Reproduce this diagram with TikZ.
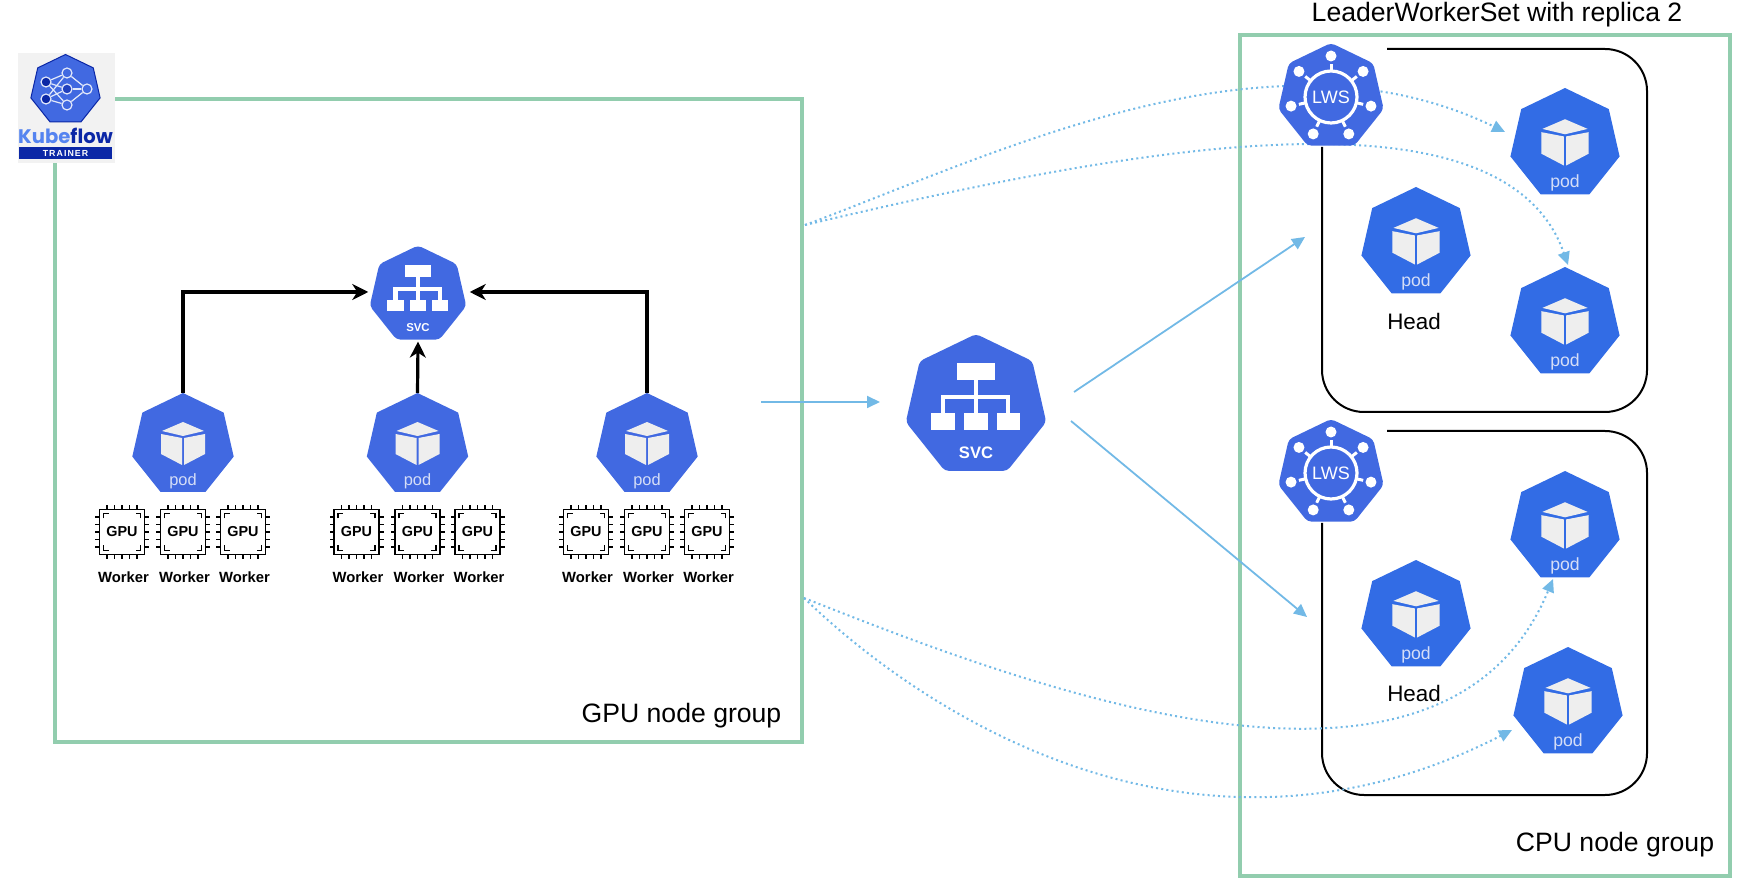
\documentclass[tikz,border=0pt]{standalone}
\usepackage{fontspec}
\setmainfont{Liberation Sans}
\newfontfamily\logofont{Poppins}
\usetikzlibrary{shapes.geometric,arrows.meta,positioning}
\definecolor{podblue}{HTML}{326CE5}
\definecolor{k8sblue}{HTML}{4169E1}
\definecolor{groupgreen}{HTML}{92CDAE}
\definecolor{linkblue}{HTML}{72B9E6}
\definecolor{podtext}{HTML}{D5DEF7}
\definecolor{cubegray}{HTML}{EEEEEE}
\definecolor{logodark}{HTML}{0B27A6}
\definecolor{logolight}{HTML}{5584F0}
\tikzset{
hept/.style={regular polygon,regular polygon sides=7,inner sep=0pt,outer sep=0pt,draw=none},
groupbox/.style={draw=groupgreen,line width=2pt},
lwsframe/.style={draw=black,line width=1pt,rounded corners=21pt},
callarrow/.style={draw=black,line width=1.6pt,-{Stealth[length=8pt,width=8pt,inset=2.5pt]}},
linkarrow/.style={draw=linkblue,line width=.9pt,-{Triangle[length=6.5pt,width=6pt]}},
linkdots/.style={draw=linkblue,line width=1pt,dash pattern=on 1pt off 1.6pt,-{Triangle[length=6.5pt,width=6pt]}},
grouplabel/.style={font=\fontsize{13.3}{15}\selectfont,inner sep=0pt},
headlabel/.style={font=\fontsize{11.2}{13}\selectfont,inner sep=0pt},
chipbox/.style={draw=black,line width=.9pt,minimum size=22.5pt,inner sep=0pt,font=\fontsize{7.2}{8}\selectfont\bfseries},
workerlabel/.style={font=\fontsize{7.4}{8}\selectfont\bfseries,inner sep=0pt},
logodot/.style={circle,draw=white!85!k8sblue,line width=.6pt,minimum size=5pt,inner sep=0pt},
pics/podglyph/.style={code={
\fill[cubegray] (0,-23) -- (21,-14) -- (0,-9) -- (-21,-14) -- cycle;
\fill[cubegray] (-22,-11) -- (-1,-7) -- (-1,20) -- (-22,9) -- cycle;
\fill[cubegray] (22,-11) -- (1,-7) -- (1,20) -- (22,9) -- cycle;
\node[text=podtext,font=\fontsize{8.2}{9}\selectfont,inner sep=0pt] (label) at (0,36) {pod};
}},
pics/svcglyph/.style={code={
\fill[white] (-19,-43) rectangle (19,-26);
\fill[white] (-45,7) rectangle (-21,24);
\fill[white] (-12,7) rectangle (12,24);
\fill[white] (21,7) rectangle (44,24);
\draw[white,line width=2.2pt] (0,-26) -- (0,7);
\draw[white,line width=2.2pt] (-33,7) -- (-33,-9) -- (32,-9) -- (32,7);
\node[text=white,font=\fontsize{8.3}{9}\selectfont\bfseries,inner sep=0pt] (label) at (0,47) {SVC};
}},
pics/lwsglyph/.style={code={
\draw[white,line width=1.6pt] (0,0) circle (26);
\foreach \k in {0,...,6}{
\draw[white,line width=1.5pt] (\k*51.43-90:26) -- (\k*51.43-90:33);
\fill[white] (\k*51.43-90:41) circle (5.5);
}
\node[text=white,font=\fontsize{9}{10}\selectfont,inner sep=0pt] (label) at (0,0) {LWS};
}},
pics/chippins/.style={code={
\foreach \k in {-15,-7.5,0,7.5,15}{
\draw[black,line width=.6pt] (\k,-22.5) -- (\k,-27);
\draw[black,line width=.6pt] (\k,22.5) -- (\k,27);
\draw[black,line width=.6pt] (-22.5,\k) -- (-27,\k);
\draw[black,line width=.6pt] (22.5,\k) -- (27,\k);
}
\draw[black,line width=.6pt] (-18.5,-13.5) -- (-18.5,-18.5) -- (-13.5,-18.5);
\draw[black,line width=.6pt] (18.5,-13.5) -- (18.5,-18.5) -- (13.5,-18.5);
\draw[black,line width=.6pt] (-18.5,13.5) -- (-18.5,18.5) -- (-13.5,18.5);
\draw[black,line width=.6pt] (18.5,13.5) -- (18.5,18.5) -- (13.5,18.5);
}}
}
\newcommand{\podicon}[4]{
\node[hept,fill=#4,minimum size=#3pt] (#1) at (#2) {};
\pic[scale=#3/52,transform shape] (#1g) at (#1) {podglyph};
}
\newcommand{\svcicon}[3]{
\node[hept,fill=k8sblue,rounded corners=2pt,minimum size=#3pt] (#1) at (#2) {};
\pic[scale=#3/72,transform shape] (#1g) at (#1) {svcglyph};
}
\newcommand{\lwsicon}[2]{
\node[hept,fill=k8sblue,rounded corners=2pt,minimum size=54pt] (#1) at (#2) {};
\pic (#1g) at (#1) {lwsglyph};
}
\begin{document}
\begin{tikzpicture}[x=.5pt,y=-.5pt]
\useasboundingbox (0,0) rectangle (1748,886);
\draw[groupbox] (55,99) rectangle (802,742);
\draw[groupbox] (1240,35) rectangle (1730,876);
\draw[lwsframe] (1322,147) |- (1647,412) |- (1387,49);
\draw[lwsframe] (1322,523) |- (1647,795) |- (1387,431);
\node[grouplabel] (gpuLabel) at (681.5,716) {GPU node group};
\node[grouplabel] (cpuLabel) at (1615,845) {CPU node group};
\node[grouplabel] (lwsTitle) at (1497,15) {LeaderWorkerSet with replica 2};
\coordinate (gpuOutTop) at (805,225);
\coordinate (gpuOutLow) at (804,598);
\coordinate (svcIn) at (761,402);
\coordinate (svcInEnd) at (880,402);
\coordinate (svcOutUp) at (1074,392);
\coordinate (svcOutLow) at (1071,421);
\coordinate (leaderUp) at (1305,237);
\coordinate (leaderLow) at (1307,617);
\coordinate (workerUpA) at (1505,132);
\coordinate (workerUpB) at (1568,265);
\coordinate (workerLowA) at (1553,579);
\coordinate (workerLowB) at (1512,730);
\draw[linkdots] (gpuOutTop) .. controls (1000,152) and (1270,18) .. (workerUpA);
\draw[linkdots] (gpuOutTop) .. controls (1090,158) and (1500,70) .. (workerUpB);
\draw[linkdots] (gpuOutLow) .. controls (1000,675) and (1440,853) .. (workerLowA);
\draw[linkdots] (gpuOutLow) .. controls (930,720) and (1200,890) .. (workerLowB);
\draw[linkarrow] (svcIn) -- (svcInEnd);
\draw[linkarrow] (svcOutUp) -- (leaderUp);
\draw[linkarrow] (svcOutLow) -- (leaderLow);
\svcicon{svcSmall}{418,295}{49.5}
\svcicon{svcBig}{976,406}{72}
\podicon{podA}{183,445}{52}{k8sblue}
\podicon{podB}{417.5,445}{52}{k8sblue}
\podicon{podC}{647,445}{52}{k8sblue}
\draw[callarrow] (podA.north) |- ([xshift=-2pt,yshift=1.5pt]svcSmall.west);
\draw[callarrow] (podC.north) |- ([xshift=3pt,yshift=1.5pt]svcSmall.east);
\draw[callarrow] (podB.north) -- ([yshift=-1pt]svcSmall.south);
\foreach \p/\px in {A/183,B/417.5,C/647}{
\foreach \c/\dx in {1/-61,2/0,3/60}{
\node[chipbox] (chip\p\c) at (\px+\dx,532) {GPU};
\pic (pins\p\c) at (chip\p\c) {chippins};
\node[workerlabel,below=8pt of chip\p\c,xshift=.8pt] (worker\p\c) {Worker};
}
}
\lwsicon{lwsUp}{1331,97}
\lwsicon{lwsLow}{1331,473}
\podicon{headUp}{1416,243}{56}{podblue}
\podicon{podUpA}{1565,144}{56}{podblue}
\podicon{podUpB}{1565,323}{56}{podblue}
\podicon{headLow}{1416,616}{56}{podblue}
\podicon{podLowA}{1565,527}{56}{podblue}
\podicon{podLowB}{1568,703}{56}{podblue}
\node[headlabel] (headUpLabel) at (1414,321) {Head};
\node[headlabel] (headLowLabel) at (1414,693) {Head};
\node[fill=black!5,draw=none,minimum width=48.5pt,minimum height=55pt,inner sep=0pt] (logoBack) at (66.5,108) {};
\node[hept,fill=k8sblue,draw=logodark,line width=.5pt,minimum size=35.5pt] (logoHept) at (65.5,90) {};
\node[logodot,fill=k8sblue] (dotTop) at (67,73) {};
\node[logodot,fill=logodark] (dotL1) at (46,82) {};
\node[logodot,fill=logodark] (dotL2) at (46,99) {};
\node[logodot,fill=logodark!60!k8sblue] (dotMid) at (67,89) {};
\node[logodot,fill=k8sblue] (dotBot) at (67,105) {};
\node[logodot,fill=k8sblue] (dotR) at (87,89) {};
\foreach \a/\b in {dotL1/dotTop,dotL1/dotMid,dotL1/dotBot,dotL2/dotTop,dotL2/dotMid,dotL2/dotBot,dotTop/dotR,dotMid/dotR,dotBot/dotR}{
\draw[white!85!k8sblue,line width=.6pt] (\a) -- (\b);
}
\node[inner sep=0pt,font=\logofont\bfseries\fontsize{9.8}{12}\selectfont] (logoText) at (65.5,136) {\textcolor{logolight}{Kube}\textcolor{logodark}{flow}};
\node[fill=logodark,text=white,minimum width=46.5pt,minimum height=6pt,inner sep=0pt,font=\fontsize{4.4}{5}\selectfont\bfseries\addfontfeature{LetterSpace=12}] (logoBand) at (65.5,153) {TRAINER};
\end{tikzpicture}
\end{document}
